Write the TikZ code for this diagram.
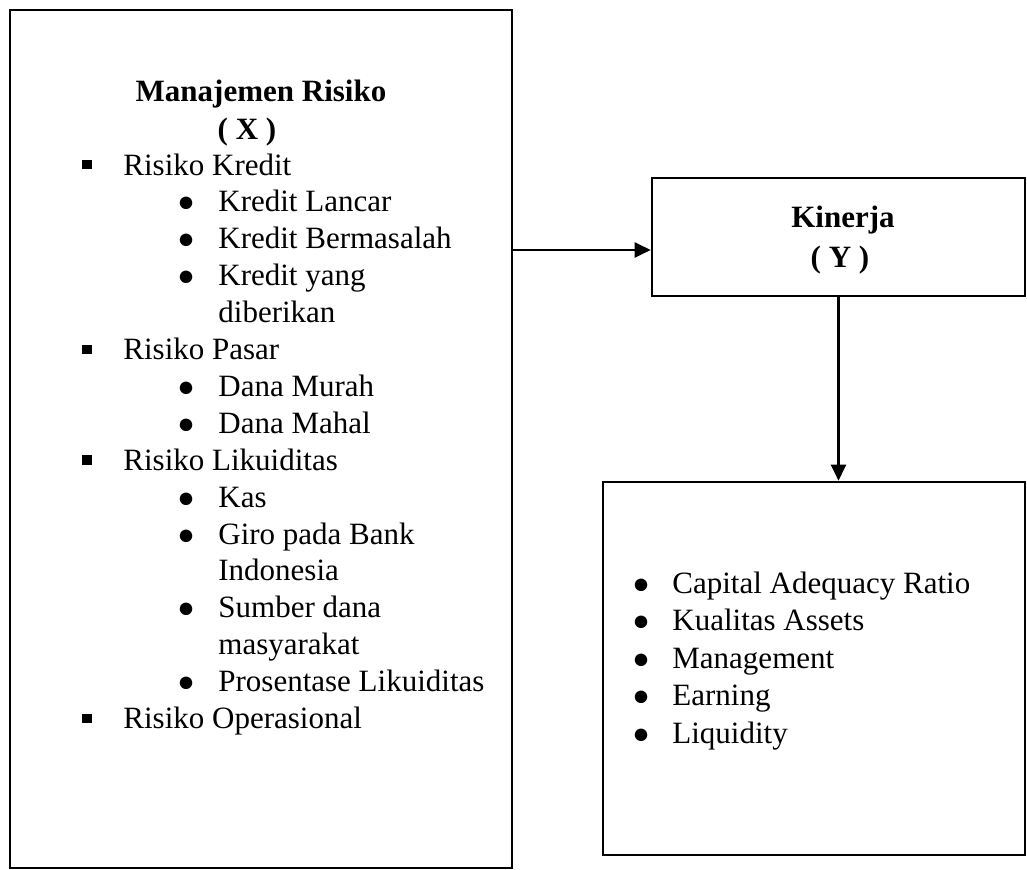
\documentclass[tikz,border=0pt]{standalone}
\usepackage{fontspec}
\setmainfont{Liberation Serif}
\usetikzlibrary{arrows.meta}

\newcommand\sqmark{\rule[2.8pt]{4.6pt}{4.6pt}}
\newcommand\rdmark{{\fontsize{14.5}{14.5}\selectfont ●}}
\newcommand\sqitem[1]{\makebox[20.5pt][l]{\sqmark}#1}
\newcommand\rditem[1]{\hspace*{47.5pt}\makebox[20.5pt][l]{\rdmark}#1}
\newcommand\rdmore[1]{\hspace*{68pt}#1}
\newcommand\ptitem[1]{\makebox[20pt][l]{\rdmark}#1}

\begin{document}
\begin{tikzpicture}[x=0.5pt, y=-0.5pt,
    box/.style={rectangle, draw, line width=1.3pt, inner sep=0pt},
    txt/.style={inner sep=0pt, font=\fontsize{15.5}{18.45}\selectfont},
    head/.style={inner sep=0pt, font=\fontsize{15.5}{18.45}\selectfont\bfseries},
    link/.style={line width=1.1pt, -{Triangle[length=8pt, width=7.5pt]}}]

    \useasboundingbox (0,0) rectangle (1027,870);

    % kotak variabel
    \node [box, minimum width=251pt, minimum height=429pt] (risk) at (261,439) {};
    \node [box, minimum width=186.5pt, minimum height=59pt] (perf) at (838.5,237) {};
    \node [box, minimum width=211pt, minimum height=186.5pt] (ind) at (814,668.5) {};

    % variabel X (base = baris terakhir)
    \node [head, anchor=base] (riskt) at (261,102) {Manajemen Risiko};
    \node [head, anchor=base] (riskx) at (247,140) {( X )};
    \node [txt, anchor=base west, align=left] (risklist) at (82,728.5) {%
        \sqitem{Risiko Kredit}\\
        \rditem{Kredit Lancar}\\
        \rditem{Kredit Bermasalah}\\
        \rditem{Kredit yang}\\
        \rdmore{diberikan}\\
        \sqitem{Risiko Pasar}\\
        \rditem{Dana Murah}\\
        \rditem{Dana Mahal}\\
        \sqitem{Risiko Likuiditas}\\
        \rditem{Kas}\\
        \rditem{Giro pada Bank}\\
        \rdmore{Indonesia}\\
        \rditem{Sumber dana}\\
        \rdmore{masyarakat}\\
        \rditem{Prosentase Likuiditas}\\
        \sqitem{Risiko Operasional}};

    % variabel Y
    \node [head, anchor=base] (perft) at (843,228) {Kinerja};
    \node [head, anchor=base] (perfy) at (840,268) {( Y )};
    \node [txt, anchor=base west, align=left, font=\fontsize{15.5}{18.75}\selectfont] (indlist) at (632,743) {%
        \ptitem{Capital Adequacy Ratio}\\
        \ptitem{Kualitas Assets}\\
        \ptitem{Management}\\
        \ptitem{Earning}\\
        \ptitem{Liquidity}};

    \coordinate (lvl) at (0,250);
    \draw [link] (risk.east |- lvl) -- (perf.west |- lvl);
    \draw [link] (perf.south) -- (perf.south |- ind.north);

\end{tikzpicture}
\end{document}
